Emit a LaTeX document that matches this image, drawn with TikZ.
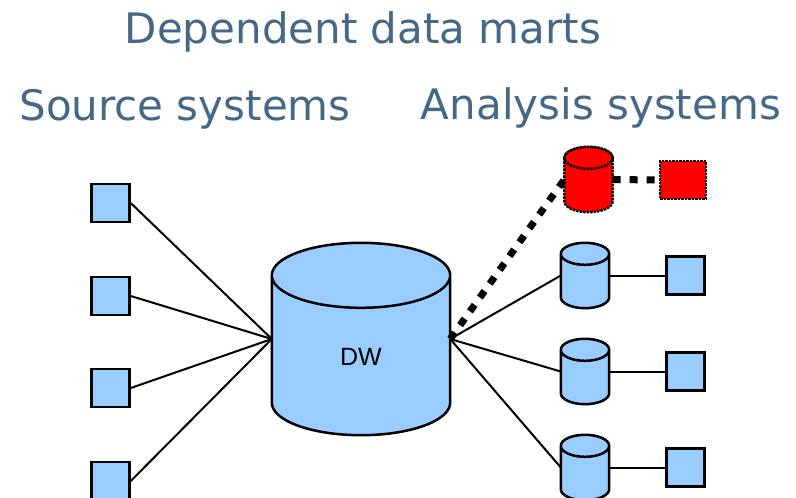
\documentclass[tikz,border=0pt]{standalone}
\usepackage{fontspec}
\setmainfont{DejaVu Sans}
\newfontfamily\dwfont{Liberation Sans}
\usetikzlibrary{calc}
\definecolor{headblue}{RGB}{69,104,134}
\definecolor{boxblue}{RGB}{153,204,255}

% cylinder drawn round a node: #1 node, #2 y radius of the ends, #3 style
\newcommand\drawdb[3]{%
  \path [#3] let \p1=(#1.north west), \p2=(#1.south east), \n1={(\x2-\x1)/2} in
    ({\x1},{\y1-#2pt}) -- ({\x1},{\y2+#2pt})
      arc [start angle=180,end angle=360,x radius=\n1,y radius=#2pt]
      -- ({\x2},{\y1-#2pt})
      arc [start angle=0,end angle=180,x radius=\n1,y radius=#2pt] -- cycle
    ({(\x1+\x2)/2},{\y1-#2pt}) ellipse [x radius=\n1,y radius=#2pt];}

\begin{document}
\begin{tikzpicture}[x=1pt,y=-1pt]
    \tikzset{
      heading/.style={text=headblue,anchor=base,inner sep=0pt,font=\fontsize{42}{50}\selectfont},
      sysbox/.style={draw,fill=boxblue,line width=2.5pt,minimum width=38pt,minimum height=38pt,inner sep=0pt},
      martbox/.style={sysbox,fill=red,densely dotted,minimum width=46pt},
      dbnode/.style={inner sep=0pt,minimum width=48pt,minimum height=65pt},
      dbline/.style={draw,fill=boxblue,line width=2.5pt},
      martline/.style={dbline,fill=red,densely dotted},
      link/.style={line width=2pt},
      thicklink/.style={line width=7pt,dash pattern=on 8pt off 9pt}
    }
    \useasboundingbox (0,0) rectangle (796,498);
    % headings
    \node [heading] (hmart) at (363,43) {Dependent data marts};
    \node [heading] (hsrc) at (185,120) {Source systems};
    \node [heading] (hana) at (601,119) {Analysis systems};
    % warehouse
    \node [dbnode,minimum width=178pt,minimum height=192pt] (dw) at (361,339) {};
    \drawdb{dw}{32.5}{dbline}
    \node [inner sep=0pt,text height=52pt,text depth=0pt,font=\dwfont\fontsize{25}{30}\selectfont] (dwtext) at (dw.center) {DW};
    % source systems
    \foreach \y [count=\i] in {203,296,388,481}
      \node [sysbox] (src\i) at (110.5,\y) {};
    % analysis systems
    \foreach \y [count=\i] in {275.5,371.5,467.5} {
      \node [dbnode] (adb\i) at (585,\y) {};
      \drawdb{adb\i}{11}{dbline}
      \node [sysbox] (ana\i) at (685.5,\y) {};
    }
    % dependent data mart
    \node [dbnode] (mdb) at (588.5,179.5) {};
    \drawdb{mdb}{11}{martline}
    \node [martbox] (mart) at (683,180) {};
    % connectors
    \foreach \i in {1,...,4}
      \draw [link] (src\i.east) -- (dw.west);
    \foreach \i in {1,...,3} {
      \draw [link] (dw.east) -- (adb\i.west);
      \draw [link] (adb\i.east) -- (ana\i.west);
    }
    \draw [thicklink] (dw.east) -- (mdb.west);
    \draw [thicklink] (mdb.east) -- (mart.west);
\end{tikzpicture}
\end{document}
